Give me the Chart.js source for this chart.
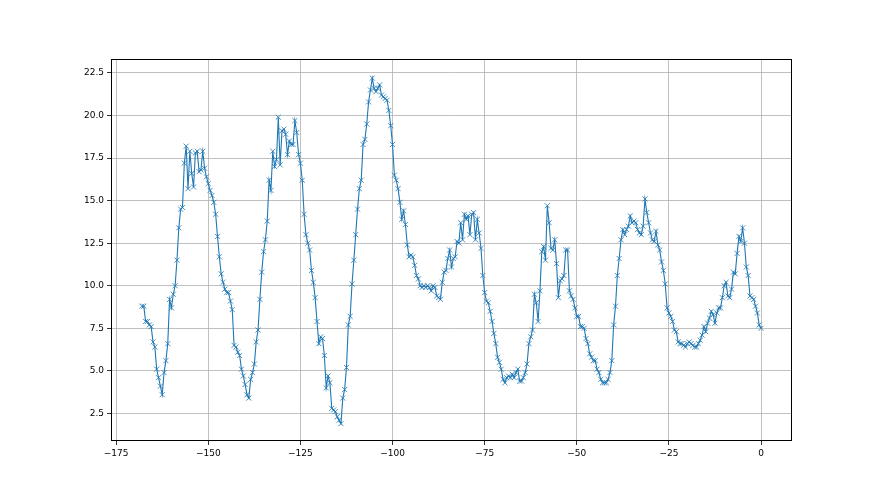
<!DOCTYPE html>
<html>
<head>
<meta charset="utf-8">
<script src="https://cdn.jsdelivr.net/npm/chart.js@4/dist/chart.umd.min.js"></script>
<style>
html,body{margin:0;padding:0;background:#fff;}
canvas{display:block;}
</style>
</head>
<body>
<canvas id="c" width="880" height="495"></canvas>
<script>
// Series values (one every 0.5 units, from -168 to 0)
const values = [
  8.8, 8.8, 7.9, 7.9, 7.7, 7.6, 6.7, 6.4, 5.1, 4.6, 4.1, 3.6, 4.9, 5.6, 6.6, 9.2, 8.7, 9.5, 10.0, 11.5, 13.4, 14.5, 14.6, 17.2, 18.2, 15.7,
  17.9, 16.6, 15.8, 17.8, 17.9, 16.7, 16.8, 17.9, 16.9, 16.4, 16.0, 15.6, 15.3, 14.9, 14.2, 12.9, 11.7, 10.7, 10.2, 9.8, 9.6, 9.6, 9.1, 8.6, 6.5, 6.4, 6.1, 5.9, 5.1,
  4.7, 4.2, 3.6, 3.4, 4.5, 4.9, 5.4, 6.7, 7.4, 9.2, 10.8, 12.0, 12.7, 13.8, 16.2, 15.6, 17.9, 17.0, 17.4, 19.9, 17.1, 19.1, 19.2, 18.9, 17.7, 18.5, 18.3, 18.3, 19.7,
  19.0, 17.7, 17.2, 16.2, 14.2, 13.0, 12.5, 12.1, 10.9, 10.2, 9.3, 7.9, 6.6, 7.0, 6.9, 5.9, 4.0, 4.7, 4.3, 2.8, 2.7, 2.6, 2.3, 2.1, 1.9, 3.4, 3.9, 5.2, 7.7,
  8.2, 10.1, 11.5, 13.0, 14.5, 15.7, 16.2, 18.3, 18.6, 19.5, 20.8, 21.5, 22.2, 21.6, 21.4, 21.6, 21.8, 21.2, 21.1, 21.0, 20.9, 20.3, 19.4, 18.3, 16.5, 16.2, 15.7, 14.9, 13.9,
  14.4, 13.6, 12.4, 11.7, 11.8, 11.7, 11.2, 10.6, 10.4, 10.0, 9.9, 10.0, 9.9, 10.0, 9.9, 9.7, 10.0, 9.9, 9.4, 9.3, 9.2, 10.2, 10.8, 10.9, 11.6, 12.1, 11.1, 11.6, 11.7,
  12.6, 12.5, 13.7, 12.7, 14.2, 13.9, 14.1, 13.0, 14.2, 14.3, 12.7, 13.9, 13.1, 12.2, 10.6, 9.6, 9.1, 9.0, 8.5, 7.9, 7.2, 6.6, 5.8, 5.5, 5.1, 4.5, 4.3, 4.6,
  4.7, 4.6, 4.8, 4.6, 4.9, 5.1, 4.4, 4.4, 4.6, 4.9, 5.4, 6.6, 7.0, 7.4, 9.5, 9.0, 7.9, 9.7, 12.0, 12.3, 11.5, 14.7, 13.7, 12.2, 12.1, 12.7, 11.3, 9.3, 10.3,
  10.4, 10.6, 12.1, 12.1, 9.7, 9.4, 9.2, 8.7, 8.2, 8.2, 7.6, 7.6, 7.5, 6.9, 6.6, 6.0, 5.8, 5.6, 5.6, 5.1, 4.9, 4.5, 4.3, 4.3, 4.3, 4.5, 4.9, 5.6, 7.7,
  8.8, 10.6, 11.6, 12.7, 13.3, 13.0, 13.3, 13.5, 14.1, 13.7, 13.8, 13.7, 13.3, 13.1, 13.0, 13.5, 15.1, 14.3, 13.7, 13.1, 12.7, 12.6, 13.2, 12.4, 12.1, 11.4, 10.9, 10.1, 8.7,
  8.4, 8.2, 7.9, 7.4, 7.3, 6.7, 6.6, 6.6, 6.5, 6.4, 6.6, 6.7, 6.6, 6.5, 6.4, 6.4, 6.6, 6.8, 7.1, 7.6, 7.3, 7.8, 8.1, 8.5, 8.3, 7.8, 8.4, 8.7,
  8.7, 9.3, 10.0, 10.2, 9.4, 9.3, 9.8, 10.8, 10.7, 11.9, 12.9, 12.6, 13.4, 12.5, 11.1, 10.6, 9.4, 9.3, 9.2, 8.8, 8.4, 7.7, 7.5
];
const xStart = -168;
const xStep = 0.5;
const xTicks = [-175, -150, -125, -100, -75, -50, -25, 0];
const yTicks = [2.5, 5.0, 7.5, 10.0, 12.5, 15.0, 17.5, 20.0, 22.5];

const points = values.map((v, i) => ({ x: xStart + xStep * i, y: v }));

const frame = {
  id: 'frame',
  afterDraw(chart) {
    const a = chart.chartArea, ctx = chart.ctx;
    ctx.save();
    ctx.strokeStyle = '#000';
    ctx.lineWidth = 1;
    ctx.strokeRect(Math.round(a.left) + 0.5, Math.round(a.top) + 0.5,
      Math.round(a.right - a.left) - 1, Math.round(a.bottom - a.top) - 1);
    ctx.restore();
  }
};

const fmtMinus = v => (v < 0 ? '\u2212' + Math.abs(v) : String(v));

new Chart(document.getElementById('c'), {
  type: 'scatter',
  data: {
    datasets: [{
      data: points,
      showLine: true,
      borderColor: '#1f77b4',
      backgroundColor: '#1f77b4',
      borderWidth: 1.1,
      pointStyle: 'crossRot',
      pointRadius: 3.6,
      pointBorderWidth: 0.9,
      pointBorderColor: 'rgba(31,119,180,0.9)',
      pointHoverRadius: 3.6,
      tension: 0
    }]
  },
  options: {
    responsive: false,
    animation: false,
    devicePixelRatio: 1,
    layout: { padding: { left: 71, right: 88, top: 59, bottom: 24 } },
    plugins: { legend: { display: false }, tooltip: { enabled: false } },
    scales: {
      x: {
        type: 'linear',
        min: -176.4,
        max: 8.4,
        afterBuildTicks: s => { s.ticks = xTicks.map(v => ({ value: v })); },
        afterFit: s => { s.height = 30; },
        grid: { color: '#b0b0b0', lineWidth: 0.8, tickLength: 4, tickColor: '#000', drawTicks: true },
        border: { display: false },
        ticks: {
          color: '#000',
          font: { family: 'DejaVu Sans', size: 9 },
          padding: 3,
          maxRotation: 0,
          autoSkip: false,
          callback: v => fmtMinus(v)
        }
      },
      y: {
        type: 'linear',
        min: 0.88,
        max: 23.32,
        afterBuildTicks: s => { s.ticks = yTicks.map(v => ({ value: v })); },
        afterFit: s => { s.width = 40; },
        grid: { color: '#b0b0b0', lineWidth: 0.8, tickLength: 4, tickColor: '#000', drawTicks: true },
        border: { display: false },
        ticks: {
          color: '#000',
          font: { family: 'DejaVu Sans', size: 9 },
          padding: 3,
          autoSkip: false,
          callback: v => Number(v).toFixed(1)
        }
      }
    }
  },
  plugins: [frame]
});
</script>
</body>
</html>
